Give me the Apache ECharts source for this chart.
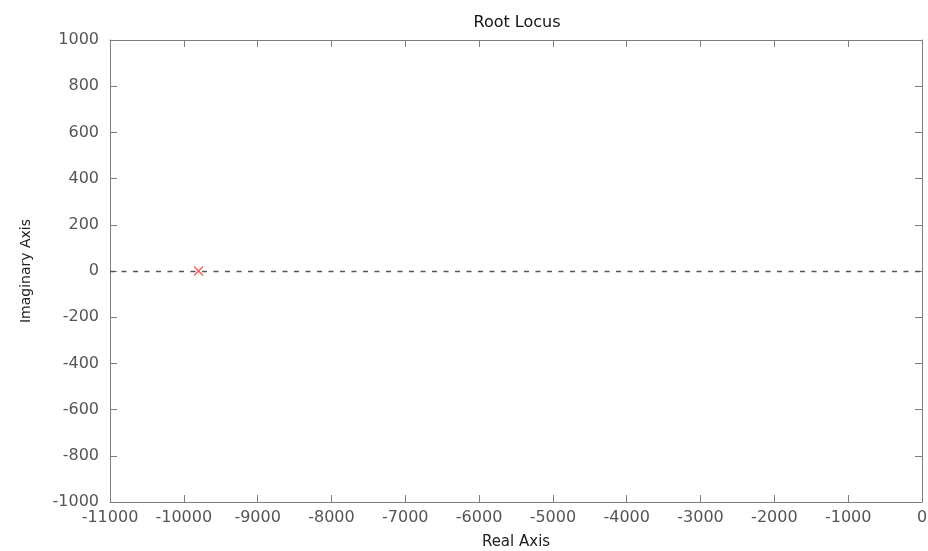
<!DOCTYPE html>
<html>
<head>
<meta charset="utf-8">
<script src="https://cdn.jsdelivr.net/npm/echarts@6/dist/echarts.min.js"></script>
<style>
  html, body { margin: 0; padding: 0; background: #fff; }
  #chart { width: 928px; height: 551px; }
</style>
</head>
<body>
<div id="chart"></div>
<script>
// axis ranges
const xRange = [-11000, 0]
const yRange = [-1000, 1000]
const xStep = 1000
const yStep = 200
// open-loop pole(s) shown as red crosses
const poles = [[-9800, 0]]

const axisColor = '#7f7f7f'
const labelColor = '#555'
const font = 'DejaVu Sans, Verdana, sans-serif'

const chart = echarts.init(document.getElementById('chart'))

const baseX = {
  type: 'value', min: xRange[0], max: xRange[1], interval: xStep,
  axisLine: { show: true, onZero: false, lineStyle: { color: axisColor, width: 1 } },
  axisTick: { show: true, inside: true, length: 7, lineStyle: { color: axisColor } },
  splitLine: { show: false },
}
const baseY = {
  type: 'value', min: yRange[0], max: yRange[1], interval: yStep,
  axisLine: { show: true, onZero: false, lineStyle: { color: axisColor, width: 1 } },
  axisTick: { show: true, inside: true, length: 7, lineStyle: { color: axisColor } },
  splitLine: { show: false },
}

chart.setOption({
  animation: false,
  title: {
    text: 'Root Locus', left: 512, top: 10, textAlign: 'center',
    textStyle: { fontFamily: font, fontSize: 16, fontWeight: 'normal', color: '#111' },
  },
  grid: { left: 110, right: 6, top: 40, bottom: 49, containLabel: false, outerBoundsMode: 'none' },
  xAxis: [
    Object.assign({}, baseX, {
      position: 'bottom',
      name: 'Real Axis', nameLocation: 'middle', nameGap: 33,
      nameTextStyle: { fontFamily: font, fontSize: 15, color: '#222' },
      axisLabel: {
        fontFamily: font, fontSize: 16, color: labelColor, margin: 8,
        formatter: v => String(v),
      },
    }),
    Object.assign({}, baseX, { position: 'top', axisLabel: { show: false } }),
  ],
  yAxis: [
    Object.assign({}, baseY, {
      position: 'left',
      name: 'Imaginary Axis', nameLocation: 'middle', nameGap: 77, nameRotate: 90,
      nameTextStyle: { fontFamily: font, fontSize: 14, color: '#222' },
      axisLabel: {
        fontFamily: font, fontSize: 16, color: labelColor, margin: 11,
        formatter: v => String(v),
      },
    }),
    Object.assign({}, baseY, { position: 'right', axisLabel: { show: false } }),
  ],
  series: [
    {
      type: 'scatter',
      xAxisIndex: 0, yAxisIndex: 0,
      data: poles,
      symbol: 'path://M0,0L10,10M10,0L0,10',
      symbolSize: 9,
      itemStyle: { color: 'none', borderColor: '#ff2a2a', borderWidth: 1.3 },
      z: 5,
      markLine: {
        silent: true,
        symbol: ['none', 'none'],
        label: { show: false },
        lineStyle: { color: '#555', type: [5, 6.5], width: 1.3 },
        data: [{ yAxis: 0 }],
      },
    },
  ],
})
</script>
</body>
</html>
